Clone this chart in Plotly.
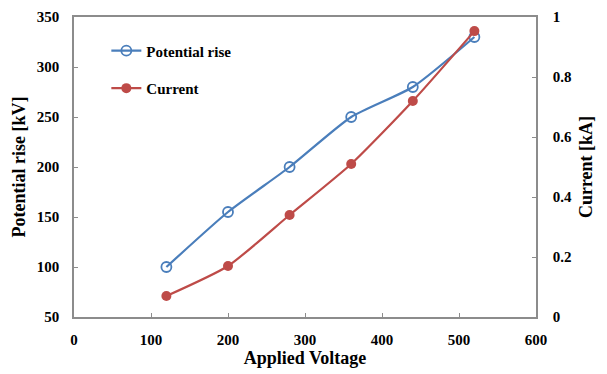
import plotly.graph_objects as go

applied_voltage = [120, 200, 280, 360, 440, 520]
potential_rise_kv = [100, 155, 200, 250, 280, 330]
current_ka = [0.07, 0.17, 0.34, 0.51, 0.72, 0.953]

blue = "#4A7EBB"
red = "#BE4B48"
axis_grey = "#8C8C8C"
font_family = "Liberation Serif, Times New Roman, serif"

fig = go.Figure()
fig.add_trace(go.Scatter(
    x=applied_voltage, y=potential_rise_kv, name="Potential rise",
    mode="lines+markers", line=dict(color=blue, width=2.2, shape="spline", smoothing=0.6),
    marker=dict(symbol="circle-open", size=10, color=blue, line=dict(width=1.8)),
    legendgroup="a",
))
fig.add_trace(go.Scatter(
    x=applied_voltage, y=current_ka, name="Current", yaxis="y2",
    mode="lines+markers", line=dict(color=red, width=2.2, shape="spline", smoothing=0.6),
    marker=dict(symbol="circle", size=10, color=red),
    legendgroup="b",
))

tick_font = dict(family=font_family, size=15, color="black", weight="bold")
title_font = dict(family=font_family, size=18, color="black", weight="bold")

fig.update_layout(
    width=607, height=374,
    margin=dict(l=74, r=71, t=17, b=57, autoexpand=False),
    paper_bgcolor="white", plot_bgcolor="white",
    showlegend=True,
    legend=dict(x=0.07, y=0.942, xanchor="left", yanchor="top",
                font=dict(family=font_family, size=15, color="black", weight="bold"),
                bgcolor="rgba(0,0,0,0)", tracegroupgap=15, itemwidth=30),
    xaxis=dict(range=[0, 600], dtick=100, ticks="inside", ticklen=4, tickcolor=axis_grey,
               showline=True, linecolor=axis_grey, linewidth=1.5, mirror=True,
               showgrid=False, zeroline=False, tickfont=tick_font, ticklabelstandoff=8,
               automargin=False,
               title=dict(text="Applied Voltage", font=title_font, standoff=5)),
    yaxis=dict(range=[50, 350], dtick=50, ticks="inside", ticklen=4, tickcolor=axis_grey,
               showline=True, linecolor=axis_grey, linewidth=1.5,
               showgrid=False, zeroline=False, tickfont=tick_font, ticklabelstandoff=10,
               automargin=False,
               title=dict(text="Potential rise [kV]", font=title_font, standoff=6)),
    yaxis2=dict(range=[0, 1], dtick=0.2, overlaying="y", side="right",
                ticks="inside", ticklen=4, tickcolor=axis_grey,
                showline=True, linecolor=axis_grey, linewidth=1.5,
                showgrid=False, zeroline=False, tickfont=tick_font, ticklabelstandoff=12,
                automargin=False,
                title=dict(text="Current [kA]", font=title_font, standoff=8)),
)

fig.write_html("out.html")
